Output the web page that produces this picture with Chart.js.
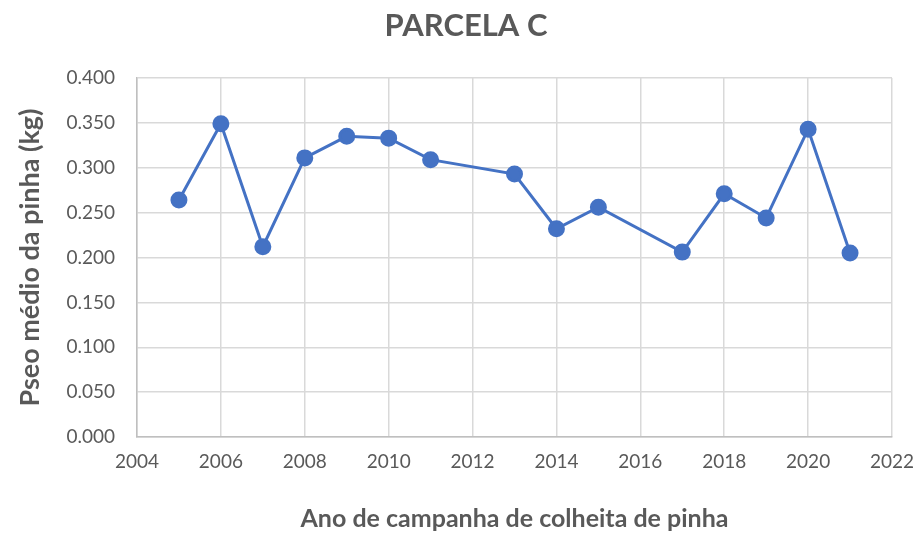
<!DOCTYPE html>
<html>
<head>
<meta charset="utf-8">
<script src="https://cdn.jsdelivr.net/npm/chart.js@4"></script>
<style>
  html, body { margin: 0; padding: 0; background: #ffffff; }
  #wrap { width: 919px; height: 534px; }
</style>
</head>
<body>
<div id="wrap"><canvas id="grafico" width="919" height="534"></canvas></div>
<script>
// anos da campanha e peso medio da pinha (kg)
const anos = [2005, 2006, 2007, 2008, 2009, 2010, 2011, 2013, 2014, 2015, 2017, 2018, 2019, 2020, 2021];
const pesos = [0.264, 0.349, 0.212, 0.311, 0.335, 0.333, 0.309, 0.293, 0.232, 0.256, 0.206, 0.271, 0.244, 0.343, 0.205];
const limitesX = [2004, 2022];
const limitesY = [0, 0.4];
const titulo = 'PARCELA C';

const pontos = anos.map((a, i) => ({ x: a, y: pesos[i] }));

const cinza = '#595959';
const fonte = 'Lato, "Open Sans", sans-serif';

// titulo centrado na pagina (o plugin title centra so na area do grafico)
const tituloPlugin = {
    id: 'tituloPagina',
    afterDraw(chart) {
        const c = chart.ctx;
        c.save();
        c.fillStyle = cinza;
        c.font = 'bold 31px ' + fonte;
        c.textAlign = 'center';
        c.textBaseline = 'middle';
        c.fillText(titulo, 466, 26);
        c.restore();
    }
};

const ctx = document.getElementById('grafico').getContext('2d');
new Chart(ctx, {
    type: 'scatter',
    data: {
        datasets: [{
            label: 'Parcela C',
            data: pontos,
            showLine: true,
            borderColor: '#4472C4',
            backgroundColor: '#4472C4',
            borderWidth: 3,
            pointRadius: 7,
            pointHoverRadius: 7,
            tension: 0
        }]
    },
    options: {
        responsive: false,
        animation: false,
        layout: { padding: { left: 0, right: 27, top: 78, bottom: 0 } },
        plugins: {
            legend: { display: false },
            tooltip: { enabled: false }
        },
        scales: {
            x: {
                type: 'linear',
                min: limitesX[0],
                max: limitesX[1],
                afterFit: function (scale) {
                    scale.height = 97;
                    scale.paddingLeft = 0;
                    scale.paddingRight = 0;
                },
                ticks: {
                    stepSize: 2,
                    color: cinza,
                    padding: 13,
                    font: { family: fonte, size: 19 },
                    callback: v => String(v)
                },
                grid: { color: '#d9d9d9', lineWidth: 1.5, drawTicks: false },
                border: { color: '#bfbfbf', width: 1.5 },
                title: {
                    display: true,
                    text: 'Ano de campanha de colheita de pinha',
                    color: cinza,
                    font: { family: fonte, size: 25, weight: 'bold' },
                    padding: { top: 0, bottom: 0 }
                }
            },
            y: {
                min: limitesY[0],
                max: limitesY[1],
                afterFit: function (scale) { scale.width = 137; },
                ticks: {
                    stepSize: 0.05,
                    color: cinza,
                    padding: 22,
                    font: { family: fonte, size: 19 },
                    callback: v => v.toFixed(3)
                },
                grid: { color: '#d9d9d9', lineWidth: 1.5, drawTicks: false },
                border: { color: '#bfbfbf', width: 1.5 },
                title: {
                    display: true,
                    text: 'Pseo médio da pinha (kg)',
                    color: cinza,
                    font: { family: fonte, size: 27, weight: 'bold' },
                    padding: { top: 14, bottom: 0 }
                }
            }
        }
    },
    plugins: [tituloPlugin]
});
</script>
</body>
</html>
